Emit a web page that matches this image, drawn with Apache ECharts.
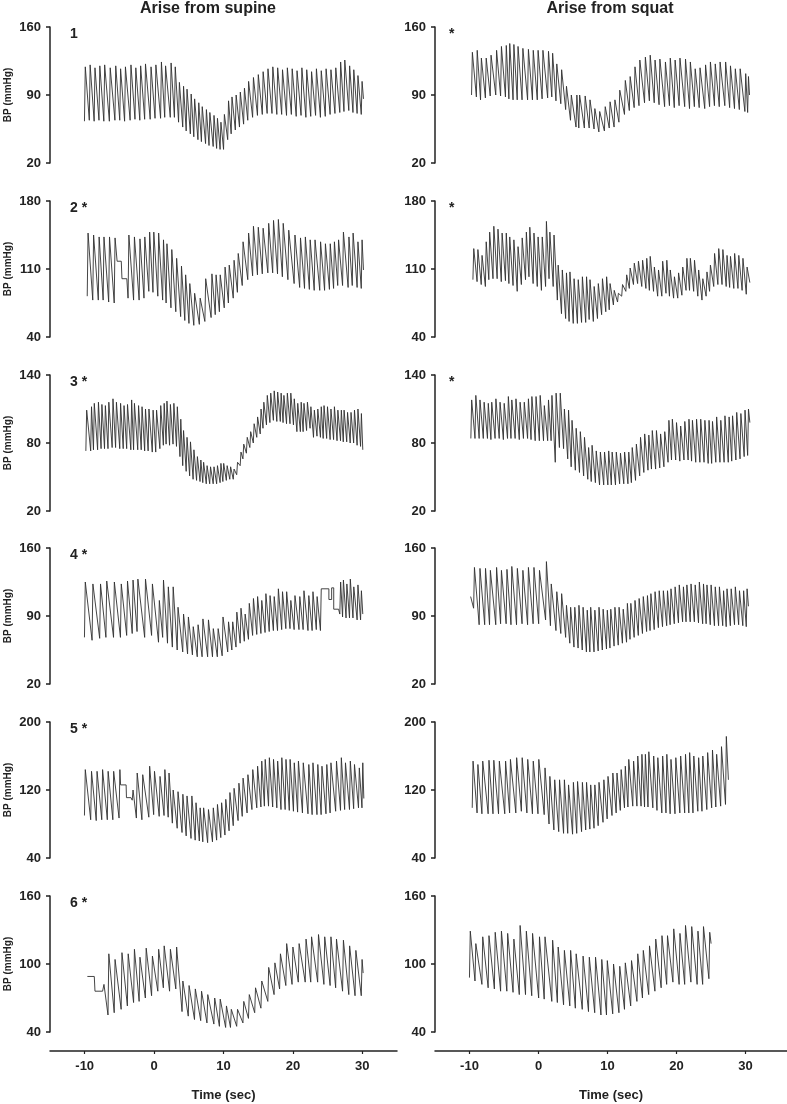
<!DOCTYPE html>
<html>
<head>
<meta charset="utf-8">
<script src="https://cdn.jsdelivr.net/npm/echarts@6/dist/echarts.min.js"></script>
<style>
  html, body { margin: 0; padding: 0; background: #fff; }
  #main { width: 787px; height: 1104px; }
</style>
</head>
<body>
<div id="main"></div>
<script>
// each beat: [time of systolic peak (s), systolic, diastolic before the upstroke]
var p1L = [[-9.9,119,63],[-9.2,121,64],[-8.5,118,63],[-7.8,120,64],[-7.1,121,63],[-6.3,118,63],[-5.5,120,64],[-4.8,117,64],[-4.1,119,63],[-3.3,121,64],[-2.6,118,65],[-1.9,120,64],[-1.2,122,65],[-0.4,119,65],[0.3,121,66],[1.1,124,66],[1.7,120,67],[2.5,123,67],[3.1,119,67],
  [3.7,103,62],[4.3,99,57],[4.8,96,53],[5.4,91,50],[5.9,86,47],[6.5,82,44],[7.0,78,42],[7.6,75,40],[8.1,72,38],[8.7,69,37],[9.2,66,35],[9.7,62,34],[10.2,70,34],
  [10.8,84,44],[11.3,88,50],[11.9,90,54],[12.5,93,57],[13.1,97,60],[13.7,104,64],[14.4,108,67],[15.1,111,69],[15.8,114,70],[16.5,117,71],[17.2,119,71],[17.9,118,70],[18.6,116,70],[19.3,118,69],[20.0,117,70],[20.7,115,68],[21.4,118,69],[22.1,116,67],[22.8,114,68],[23.5,117,69],[24.2,115,67],[24.9,117,68],[25.6,116,70],[26.3,118,71],[27.0,124,72],[27.6,126,73],[28.3,120,74],[28.9,116,72],[29.5,110,71],[30.1,104,70]];
var extra1L = [[30.3,86]];

var p1R = [[-9.6,134,90],[-8.9,136,88],[-8.3,128,85],[-7.6,128,87],[-6.9,131,89],[-6.1,136,90],[-5.4,140,89],[-4.7,141,88],[-4.2,143,86],[-3.6,142,85],
  [-3.0,140,85],[-2.3,138,85],[-1.5,137,85],[-0.8,136,85],[-0.1,136,85],[0.6,136,86],[1.4,135,87],[2.0,133,88],[2.6,122,84],[3.3,116,81],
  [4.0,99,75],[4.7,90,64],[5.5,90,57],[5.9,90,56],[6.7,89,56],[7.4,85,56],[8.1,76,55],[8.8,73,52],[9.6,78,53],[10.3,83,56],
  [11.0,85,57],[11.7,95,62],[12.5,105,70],[13.2,109,74],[13.9,119,77],[14.6,126,79],[15.4,129,82],[16.1,131,84],[16.8,126,82],[17.5,127,80],
  [18.3,124,78],[19.0,128,79],[19.7,126,77],[20.4,128,79],[21.2,127,78],[21.9,124,76],[22.6,117,78],[23.3,118,77],[24.1,121,76],[24.8,124,78],
  [25.5,122,79],[26.2,124,78],[27.0,124,79],[27.7,120,77],[28.4,117,76],[29.1,117,75],[29.9,112,73],[30.3,109,72]];
var extra1R = [[30.45,90]];

var p2L = [[-9.5,147,82],[-8.7,145,78],[-7.9,143,78],[-7.2,143,78],[-6.4,143,76],[-5.6,142,75],
  [-3.6,145,80],[-2.8,143,78],[-2.0,141,78],[-1.3,143,80],[-0.6,148,87],[0.0,148,86],[0.7,147,82],[1.4,140,78],[1.9,136,75],[2.6,130,70],
  [3.3,121,66],[4.0,113,61],[4.6,104,57],[5.2,95,54],[5.9,85,52],[6.7,80,53],[7.5,100,56],[8.4,105,60],[9.0,104,63],[9.6,104,66],
  [10.3,112,70],[10.9,114,75],[11.6,119,80],[12.2,126,86],[12.9,138,93],[13.7,147,99],[14.4,154,103],[15.1,153,104],[15.8,152,105],[16.6,157,106],
  [17.3,160,106],[18.0,161,105],[18.7,157,102],[19.5,150,99],[20.4,145,95],[21.2,142,91],[21.9,143,90],[22.6,140,89],[23.3,140,88],[24.1,138,88],
  [24.8,136,88],[25.5,136,89],[26.1,138,90],[26.7,140,93],[27.4,148,93],[28.2,143,91],[28.8,147,93],[29.5,138,91],[30.1,140,90]];
var extra2L = [[-5.3,118],[-4.7,118],[-4.6,100],[-3.9,100],[30.3,109]];

var p2R = [[-9.4,131,99],[-8.8,130,97],[-8.2,124,94],[-7.6,138,92],[-7.1,148,99],[-6.5,154,100],[-5.9,151,100],[-5.3,147,97],[-4.7,147,98],[-4.2,143,95],
  [-3.6,140,93],[-3.0,133,87],[-2.4,142,94],[-1.8,148,99],[-1.3,153,102],[-0.7,147,95],[-0.1,143,92],[0.5,143,88],[1.1,159,92],[1.6,148,100],
  [2.2,145,92],[2.8,114,78],[3.4,109,64],[4.0,106,59],[4.5,107,56],[5.1,100,54],[5.7,99,54],[6.3,102,55],[6.9,102,55],[7.4,99,58],
  [8.0,92,56],[8.6,95,59],[9.2,100,63],[9.8,102,66],[10.3,95,68],[10.9,88,73],[11.5,85,76],[12.1,94,82],[12.7,104,87],[13.2,111,90],
  [13.8,116,94],[14.4,118,95],[15.0,119,92],[15.6,121,90],[16.1,123,88],[16.7,112,87],[17.3,109,82],[17.9,118,82],[18.5,119,85],[19.0,109,82],
  [19.6,102,80],[20.2,106,80],[20.8,112,83],[21.4,121,88],[21.9,121,88],[22.5,119,87],[23.1,109,82],[23.7,100,78],[24.3,107,82],[24.8,114,87],
  [25.4,126,92],[26.0,131,94],[26.6,130,94],[27.2,124,92],[27.7,123,91],[28.3,126,90],[28.9,124,90],[29.5,121,88],[30.1,112,84]];
var extra2R = [[30.5,96]];

var p3L = [[-9.7,109,73],[-9.0,112,73],[-8.6,115,74],[-8.0,116,74],[-7.5,114,75],[-7.0,113,75],[-6.5,116,75],[-5.9,119,76],[-5.4,116,76],[-4.8,115,75],
  [-4.3,113,75],[-3.8,114,75],[-3.2,118,74],[-2.8,115,74],[-2.2,113,74],[-1.7,112,74],[-1.2,110,73],[-0.7,110,73],[-0.1,109,72],[0.4,109,72],
  [1.0,113,75],[1.5,115,78],[1.9,117,79],[2.4,114,78],[2.9,115,79],[3.4,112,77],[3.9,101,68],[4.3,91,60],[4.8,85,55],[5.3,81,51],
  [5.8,74,48],[6.3,68,47],[6.8,65,46],[7.2,63,45],[7.7,60,44],[8.2,59,44],[8.7,59,44],[9.2,60,44],[9.7,62,45],[10.1,62,46],
  [10.6,60,47],[11.1,59,48],[11.6,57,48],[12.1,63,52],[12.6,72,60],[13.0,79,66],[13.5,85,71],[14.0,90,76],[14.5,97,80],[15.0,103,85],
  [15.5,110,88],[15.9,116,93],[16.4,122,96],[16.9,124,98],[17.4,126,100],[17.9,125,99],[18.4,124,99],[18.8,122,98],[19.3,124,97],[19.8,124,97],
  [20.3,119,96],[20.8,115,90],[21.3,116,90],[21.7,115,90],[22.2,116,91],[22.7,112,93],[23.2,109,85],[23.7,110,86],[24.2,112,85],[24.6,113,84],
  [25.1,112,84],[25.6,110,83],[26.1,112,83],[26.6,109,82],[27.1,109,82],[27.5,109,81],[28.0,107,81],[28.5,107,80],[29.0,109,80],[29.5,110,78],
  [30.0,106,77]];
var extra3L = [[30.2,74]];

var p3R = [[-9.7,118,84],[-9.1,122,84],[-8.5,118,84],[-7.9,116,84],[-7.3,115,84],[-6.8,116,83],[-6.2,119,84],[-5.6,116,84],[-5.0,115,83],[-4.4,121,84],
  [-3.9,118,84],[-3.3,119,84],[-2.7,116,83],[-2.1,116,84],[-1.5,119,84],[-1.0,121,83],[-0.4,121,82],[0.2,122,82],[0.8,113,82],[1.4,118,82],
  [1.9,122,82],[2.5,124,63],[3.1,124,76],[3.7,110,75],[4.3,109,66],[4.8,100,59],[5.4,93,56],[6.0,90,54],[6.6,85,51],[7.2,76,48],
  [7.7,78,46],[8.3,73,45],[8.9,72,43],[9.5,72,43],[10.1,73,43],[10.6,72,43],[11.2,72,43],[11.8,71,44],[12.4,72,44],[13.0,72,44],
  [13.5,76,45],[14.1,79,47],[14.7,85,51],[15.3,88,54],[15.9,87,56],[16.4,91,57],[17.0,91,57],[17.6,88,58],[18.2,90,59],[18.8,100,63],
  [19.3,101,65],[19.9,98,65],[20.5,95,64],[21.1,99,65],[21.7,101,65],[22.2,100,64],[22.8,101,63],[23.4,101,63],[24.0,100,63],[24.6,100,62],
  [25.1,99,62],[25.7,103,63],[26.3,100,63],[26.9,104,63],[27.5,103,63],[28.0,104,64],[28.6,107,65],[29.2,106,66],[29.8,109,68],[30.3,110,69]];
var extra3R = [[30.5,98]];

var p4L = [[-9.9,125,68],[-8.8,123,65],[-7.7,123,67],[-6.8,126,68],[-5.7,125,68],[-4.7,123,68],[-3.8,126,70],[-3.0,127,72],[-2.3,128,74],[-1.2,128,68],[-0.2,123,70],
  [0.8,106,63],[1.4,127,68],[2.1,120,62],[2.8,120,58],[3.5,99,55],[4.3,92,53],[5.0,89,51],[5.7,79,50],[6.4,81,48],[7.1,87,48],[7.9,86,48],[8.6,77,48],[9.3,77,48],
  [10.0,89,49],[10.8,84,53],[11.4,84,55],[12.0,94,58],[12.6,98,62],[13.2,92,64],[13.8,103,66],[14.4,108,70],[15.0,110,71],[15.6,106,72],[16.2,113,73],[16.8,111,74],
  [17.4,110,75],[18.0,118,75],[18.6,115,76],[19.2,115,77],[19.8,106,77],[20.4,111,76],[21.1,110,76],[21.7,116,76],[22.4,111,75],[23.0,115,75],[23.6,110,76],[24.2,118,75],
  [27.0,125,92],[27.4,127,89],[27.9,123,88],[28.4,128,88],[28.9,120,88],[29.5,122,86],[30.0,116,86]];
var extra4L = [[24.4,118],[25.3,118],[25.3,107],[25.7,107],[25.7,119],[26.0,119],[26.0,97],[26.7,97],[30.2,92]];

var p4R = [[-9.3,140,98],[-8.5,139,81],[-7.7,139,81],[-7.0,137,81],[-6.1,140,81],[-5.4,137,82],[-4.6,138,82],[-3.9,141,81],[-3.1,139,81],[-2.3,137,82],[-1.5,140,81],[-0.7,140,82],[0.1,137,82],[1.1,146,86],
  [1.8,123,80],[2.6,115,75],[3.3,113,72],[4.0,101,68],[4.6,99,62],[5.2,99,58],[5.8,101,57],[6.4,99,55],[7.0,96,53],[7.5,99,53],[8.1,96,53],[8.7,99,54],[9.3,97,55],
  [9.9,96,56],[10.4,97,57],[11.0,99,59],[11.6,99,60],[12.2,97,62],[12.8,103,63],[13.3,103,66],[13.9,106,68],[14.5,108,70],[15.1,110,72],[15.7,111,74],[16.2,113,75],
  [16.8,115,76],[17.4,116,78],[18.0,116,79],[18.6,116,80],[19.1,118,81],[19.7,120,82],[20.3,122,83],[20.9,120,84],[21.4,122,84],[22.0,123,84],[22.6,122,84],
  [23.2,125,83],[23.8,123,82],[24.3,122,82],[24.9,122,81],[25.5,120,80],[26.1,120,80],[26.7,116,80],[27.2,118,79],[27.8,118,80],[28.4,120,81],[29.0,116,81],
  [29.6,116,80],[30.1,118,79]];
var extra4R = [[-9.85,110],[30.3,100]];

var p5L = [[-9.9,144,90],[-9.0,142,85],[-8.2,142,84],[-7.4,144,85],[-6.6,142,85],[-5.8,142,85],[-4.9,144,87],
  [-3.0,120,108],
  [-2.4,140,87],[-1.6,138,85],[-0.6,148,88],[0.1,142,91],[0.9,136,89],[1.6,144,90],[2.2,140,88],[2.8,120,81],[3.5,118,75],[4.2,115,70],[4.8,113,66],[5.5,113,63],
  [6.1,105,61],[6.7,99,60],[7.2,99,59],[7.9,97,58],[8.6,99,59],[9.2,103,61],[9.8,105,64],[10.4,109,67],[11.0,117,72],[11.6,122,78],[12.3,128,84],[12.9,134,89],
  [13.6,138,93],[14.3,144,97],[15.0,148,99],[15.6,154,100],[16.1,156,101],[16.7,158,101],[17.3,156,100],[17.9,154,99],[18.5,158,97],[19.1,156,97],[19.7,156,96],
  [20.3,152,95],[20.9,154,94],[21.6,152,93],[22.4,150,92],[23.0,152,91],[23.7,150,91],[24.3,148,91],[25.0,150,92],[25.6,152,93],[26.4,154,95],[27.1,158,96],
  [27.7,152,97],[28.4,154,97],[29.0,150,98],[29.7,146,99],[30.2,152,99]];
var extra5L = [[-4.8,126],[-4.0,126],[-3.95,111],[-3.3,111],[30.35,110]];

var p5R = [[-9.5,154,99],[-8.8,150,93],[-8.1,154,92],[-7.2,155,92],[-6.5,155,92],[-5.7,154,92],[-4.8,154,92],[-4.1,156,93],[-3.2,158,93],[-2.4,158,95],[-1.6,156,93],[-0.8,154,92],[0.0,156,92],
  [0.9,146,91],[1.6,136,80],[2.3,132,73],[3.0,132,71],[3.7,132,69],[4.3,126,69],[5.0,129,68],[5.6,130,69],[6.3,129,71],[6.9,129,73],[7.5,126,74],[8.1,126,75],
  [8.7,129,78],[9.4,132,82],[10.0,136,86],[10.7,140,90],[11.3,140,93],[11.9,144,96],[12.5,148,99],[13.0,156,100],[13.7,154,101],[14.3,160,101],[14.9,162,101],
  [15.4,162,100],[15.9,165,100],[16.6,160,99],[17.2,158,96],[17.9,160,93],[18.5,162,93],[19.1,156,92],[19.8,158,92],[20.5,160,93],[21.2,162,93],[21.8,164,93],
  [22.4,160,93],[23.1,158,95],[23.7,160,95],[24.4,164,97],[25.1,167,99],[25.7,162,100],[26.4,171,101],[27.1,183,103]];
var extra5R = [[27.4,132]];

var p6L = [[-7.2,82,76],
  [-6.5,109,55],[-5.6,104,57],[-4.6,110,60],[-3.7,109,63],[-2.8,113,66],[-2.0,106,67],[-1.1,114,70],[-0.2,107,72],[0.7,113,76],[1.5,116,79],[2.4,113,76],[3.3,115,78],
  [4.2,85,58],[5.1,81,54],[6.0,78,51],[6.9,76,50],[7.8,73,48],[8.8,70,47],[9.6,69,45],[10.5,63,44],[11.2,60,44],[12.1,60,45],[13.0,67,48],[13.8,73,52],[14.7,79,57],
  [15.6,85,61],[16.6,97,67],[17.5,101,73],[18.3,109,78],[19.2,118,81],[20.1,115,82],[21.0,118,84],[22.0,122,84],[22.8,124,84],[23.8,126,84],[24.7,124,82],
  [25.6,124,81],[26.4,122,79],[27.4,121,76],[28.3,116,73],[29.2,112,72],[30.1,104,72]];
var extra6L = [[-9.6,89],[-8.6,89],[-8.5,76],[-7.4,76],[30.25,92]];

var p6R = [[-9.9,129,88],[-9.1,118,85],[-8.1,124,82],[-7.2,125,79],[-6.3,128,78],[-5.4,129,76],[-4.5,127,76],[-3.6,122,75],[-2.7,134,73],[-1.8,129,73],
  [-0.9,127,72],[0.1,124,70],[0.9,124,69],[2.0,121,67],[2.8,115,66],[3.7,112,64],[4.6,112,63],[5.4,109,61],[6.4,107,60],[7.3,106,58],
  [8.2,106,57],[9.1,104,55],[9.9,103,55],[10.8,100,56],[11.7,98,57],[12.5,101,60],[13.4,103,63],[14.3,109,67],[15.1,112,70],[16.0,116,73],
  [16.9,122,76],[17.8,125,79],[18.6,125,82],[19.5,131,84],[20.4,127,82],[21.2,134,82],[22.1,133,84],[23.0,129,82],[23.8,133,82],[24.7,128,87]];
var extra6R = [[24.9,118]];

var yRanges = [[20,160],[40,180],[20,140],[20,160],[40,200],[40,160]];
var yTicks = [[20,90,160],[40,110,180],[20,80,140],[20,90,160],[40,120,200],[40,100,160]];
var leftLabels = ['1','2 *','3 *','4 *','5 *','6 *'];
var rightLabels = ['*','*','*','','',''];
var timeTicks = [-10,0,10,20,30];
var colTitles = ['Arise from supine','Arise from squat'];

var leftPanels = [[p1L,extra1L],[p2L,extra2L],[p3L,extra3L],[p4L,extra4L],[p5L,extra5L],[p6L,extra6L]];
var rightPanels = [[p1R,extra1R],[p2R,extra2R],[p3R,extra3R],[p4R,extra4R],[p5R,extra5R],[p6R,extra6R]];

var FONT = "'Liberation Sans', Arial, sans-serif";
var INK = '#222';
var tops = [27, 201, 375, 548, 722, 896];
var colLeft = [50, 435];

// sawtooth pulse: trough, fast upstroke to the peak, decay into the next trough
function trace(beats, extra) {
  var pts = [];
  beats.forEach(function (b) {
    pts.push([b[0] - 0.12, b[2]]);
    pts.push([b[0], b[1]]);
  });
  extra.forEach(function (p) { pts.push(p); });
  pts.sort(function (a, b) { return a[0] - b[0]; });
  return pts;
}

var grid = [], xAxis = [], yAxis = [], series = [], graphic = [];

[leftPanels, rightPanels].forEach(function (col, c) {
  col.forEach(function (panel, r) {
    var gi = grid.length;
    grid.push({ left: colLeft[c], top: tops[r], width: 346, height: 136 });
    xAxis.push({ type: 'value', gridIndex: gi, min: -15, max: 35, show: false });
    yAxis.push({
      type: 'value', gridIndex: gi, min: yRanges[r][0], max: yRanges[r][1],
      axisLine: { show: true, onZero: false, lineStyle: { color: INK, width: 1.5 } },
      axisTick: { show: true, length: 4, customValues: yTicks[r], lineStyle: { color: INK, width: 1.5 } },
      axisLabel: { customValues: yTicks[r], margin: 9, color: INK, fontSize: 13, fontWeight: 'bold', fontFamily: FONT },
      splitLine: { show: false }
    });
    series.push({
      type: 'line', xAxisIndex: gi, yAxisIndex: gi,
      data: trace(panel[0], panel[1]),
      showSymbol: false, silent: true,
      lineStyle: { color: '#303030', width: 0.9 }
    });
    var lab = c === 0 ? leftLabels[r] : rightLabels[r];
    if (lab) {
      graphic.push({ type: 'text', x: c === 0 ? 70 : 449, y: tops[r] + 7,
        style: { text: lab, font: 'bold 14px ' + FONT, fill: INK, verticalAlign: 'middle' } });
    }
    if (c === 0) {
      graphic.push({ type: 'text', x: 8, y: tops[r] + 68, rotation: Math.PI / 2,
        style: { text: 'BP (mmHg)', font: 'bold 10px ' + FONT, fill: INK, align: 'center', verticalAlign: 'middle' } });
    }
  });
});

// shared time axes at the bottom
[[50, 347, 35], [435, 352, 36]].forEach(function (b) {
  var gi = grid.length;
  grid.push({ left: b[0], top: 1050, width: b[1], height: 1 });
  xAxis.push({
    type: 'value', gridIndex: gi, min: -15, max: b[2], position: 'bottom',
    name: 'Time (sec)', nameLocation: 'middle', nameGap: 38,
    nameTextStyle: { color: INK, fontSize: 13, fontWeight: 'bold', fontFamily: FONT },
    axisLine: { show: true, lineStyle: { color: INK, width: 1.5 } },
    axisTick: { show: true, length: 3, customValues: timeTicks, lineStyle: { color: INK, width: 1.2 } },
    axisLabel: { customValues: timeTicks, margin: 9, color: INK, fontSize: 13, fontWeight: 'bold', fontFamily: FONT },
    splitLine: { show: false }
  });
  yAxis.push({ type: 'value', gridIndex: gi, show: false });
});

graphic.push({ type: 'text', x: 208, y: 9,
  style: { text: colTitles[0], font: 'bold 16px ' + FONT, fill: INK, align: 'center', verticalAlign: 'middle' } });
graphic.push({ type: 'text', x: 610, y: 9,
  style: { text: colTitles[1], font: 'bold 16px ' + FONT, fill: INK, align: 'center', verticalAlign: 'middle' } });

var myChart = echarts.init(document.getElementById('main'));
var option = {
  animation: false,
  backgroundColor: '#fff',
  grid: grid,
  xAxis: xAxis,
  yAxis: yAxis,
  series: series,
  graphic: graphic
};
option && myChart.setOption(option);
</script>
</body>
</html>
